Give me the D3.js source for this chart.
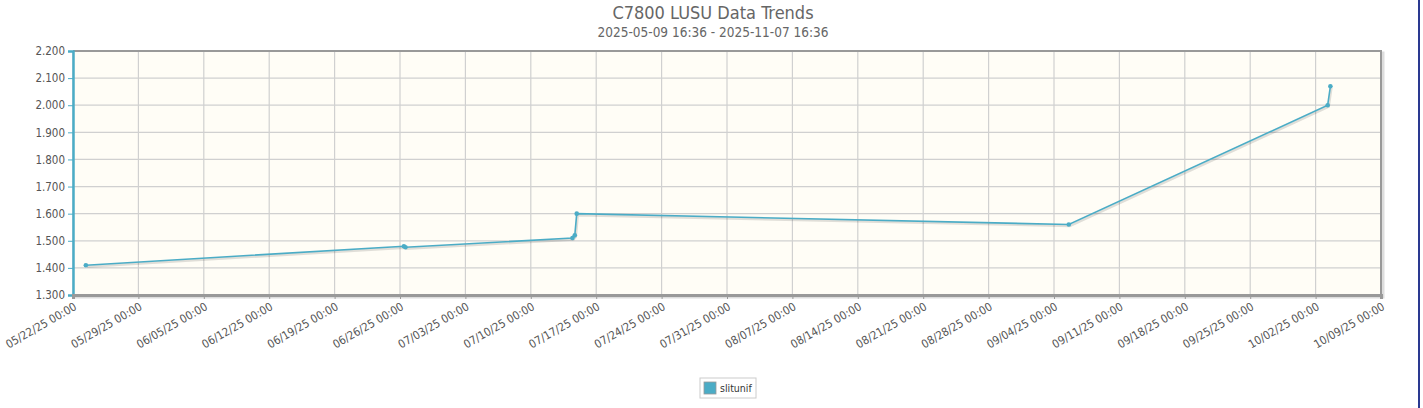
<!DOCTYPE html>
<html>
<head>
<meta charset="utf-8">
<script src="https://cdn.jsdelivr.net/npm/d3@7"></script>
<style>
  body { margin: 0; background: #fff; }
  svg text { font-family: "DejaVu Sans Condensed", "DejaVu Sans", sans-serif; fill: #555; }
</style>
</head>
<body>
<div id="chart"></div>
<script>
// Data
const seriesName = "slitunif";
const dates = [
  "2025-05-23 09:00", "2025-06-26 10:00", "2025-06-26 14:00",
  "2025-07-14 11:00", "2025-07-14 17:00", "2025-07-14 22:00",
  "2025-09-05 14:00", "2025-10-03 07:00", "2025-10-03 14:00"
];
const values = [1.41, 1.48, 1.476, 1.51, 1.52, 1.60, 1.56, 2.00, 2.07];
const yTicks = [1.3, 1.4, 1.5, 1.6, 1.7, 1.8, 1.9, 2.0, 2.1, 2.2];
const xTickStart = "2025-05-22 00:00";
const xTickEnd = "2025-10-09 00:00";

const width = 1423, height = 408;
const margin = { top: 51, right: 42, bottom: 113, left: 73 };
const innerW = width - margin.left - margin.right;
const innerH = height - margin.top - margin.bottom;
const parse = d3.timeParse("%Y-%m-%d %H:%M");
const color = "#4bacc6";

const data = dates.map((d, i) => ({ date: parse(d), value: values[i] }));

const svg = d3.select("#chart").append("svg")
  .attr("width", width).attr("height", height);

// Titles
svg.append("text").attr("x", 713).attr("y", 19).attr("text-anchor", "middle")
  .style("font-size", "18px").style("fill", "#666").text("C7800 LUSU Data Trends");
svg.append("text").attr("x", 713).attr("y", 37).attr("text-anchor", "middle")
  .style("font-size", "13.5px").style("fill", "#666").text("2025-05-09 16:36 - 2025-11-07 16:36");

// right edge border
svg.append("line").attr("x1", 1419).attr("x2", 1419).attr("y1", 0).attr("y2", height)
  .attr("stroke", "#2a3990").attr("stroke-width", 2);

const g = svg.append("g").attr("transform", `translate(${margin.left},${margin.top})`);

const x = d3.scaleTime().domain([parse(xTickStart), parse(xTickEnd)]).range([0, innerW]);
const y = d3.scaleLinear().domain([1.3, 2.2]).range([innerH, 0]);
// weekly ticks (Thursdays), end inclusive
const xTicks = d3.timeThursday.every(1).range(parse(xTickStart), d3.timeDay.offset(parse(xTickEnd), 1));

// shadow for plot box
g.append("rect").attr("x", 2).attr("y", 2).attr("width", innerW).attr("height", innerH)
  .attr("fill", "none").attr("stroke", "#ddd").attr("stroke-width", 3);
g.append("rect").attr("width", innerW).attr("height", innerH).attr("fill", "#fffdf6");

// grid
g.append("g").selectAll("line").data(yTicks).join("line")
  .attr("x1", 0).attr("x2", innerW).attr("y1", d => y(d)).attr("y2", d => y(d))
  .attr("stroke", "#d0d0d0").attr("stroke-width", 1.2);
g.append("g").selectAll("line").data(xTicks).join("line")
  .attr("x1", d => x(d)).attr("x2", d => x(d)).attr("y1", 0).attr("y2", innerH)
  .attr("stroke", "#d0d0d0").attr("stroke-width", 1.2);

// border top/right
g.append("path").attr("d", `M0,0H${innerW}V${innerH}`).attr("fill", "none")
  .attr("stroke", "#999").attr("stroke-width", 2);

// y axis
const yAxis = g.append("g").call(d3.axisLeft(y).tickValues(yTicks).tickFormat(d3.format(".3f")).tickSize(5).tickPadding(3));
yAxis.select(".domain").attr("stroke", color).attr("stroke-width", 2.5);
yAxis.selectAll(".tick line").attr("stroke", color);
yAxis.selectAll("text").style("font-size", "11.5px").style("fill", "#555");

// x axis
const xAxis = g.append("g").attr("transform", `translate(0,${innerH})`)
  .call(d3.axisBottom(x).tickValues(xTicks).tickFormat(d3.timeFormat("%m/%d/%y %H:%M")).tickSize(4).tickPadding(2));
xAxis.select(".domain").attr("stroke", "#999").attr("stroke-width", 3);
xAxis.selectAll(".tick line").attr("stroke", "#999");
xAxis.selectAll("text").style("font-size", "11.5px").style("fill", "#555")
  .attr("text-anchor", "end").attr("dx", "-0.3em").attr("dy", "0.7em")
  .attr("transform", "rotate(-30)");

// line
const line = d3.line().x(d => x(d.date)).y(d => y(d.value));
g.append("path").datum(data).attr("d", line).attr("fill", "none")
  .attr("stroke", "rgba(0,0,0,0.12)").attr("stroke-width", 2.5).attr("transform", "translate(1,1.5)");
g.append("path").datum(data).attr("d", line).attr("fill", "none")
  .attr("stroke", color).attr("stroke-width", 1.6);
g.selectAll(".pt").data(data).join("circle").attr("class", "pt")
  .attr("cx", d => x(d.date)).attr("cy", d => y(d.value)).attr("r", 2.3).attr("fill", color);

// legend
const leg = svg.append("g").attr("transform", "translate(700,378)");
leg.append("rect").attr("width", 56).attr("height", 20).attr("fill", "#fff").attr("stroke", "#ccc");
leg.append("rect").attr("x", 4).attr("y", 4).attr("width", 12).attr("height", 12)
  .attr("fill", color).attr("stroke", "#999").attr("stroke-width", 0.8);
leg.append("text").attr("x", 20).attr("y", 14).style("font-size", "10.5px").style("fill", "#333").text(seriesName);
</script>
</body>
</html>
